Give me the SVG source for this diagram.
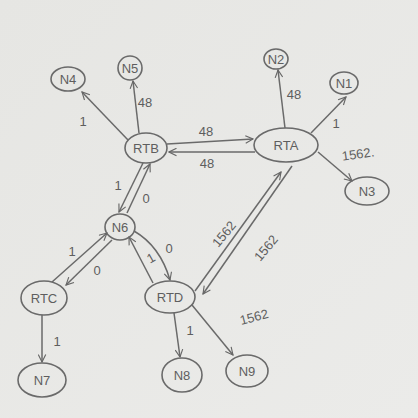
<svg xmlns="http://www.w3.org/2000/svg" width="418" height="418" viewBox="0 0 418 418">
<defs>
<marker id="ah" viewBox="0 0 12 12" refX="11" refY="6" markerWidth="9" markerHeight="9" orient="auto" markerUnits="userSpaceOnUse">
<path d="M1,1 L11,6 L1,11" fill="none" stroke="#666" stroke-width="1.5"/>
</marker>
<linearGradient id="bg" x1="0" y1="0" x2="1" y2="1">
<stop offset="0" stop-color="#e6e6e3"/>
<stop offset="1" stop-color="#ebebe9"/>
</linearGradient>
</defs>
<style>
.n ellipse{fill:none;stroke:#6a6a6a;stroke-width:1.6}
.n text{font-family:"Liberation Sans",sans-serif;font-size:13px;fill:#5e5e5e;text-anchor:middle;dominant-baseline:central}
.e path{fill:none;stroke:#6a6a6a;stroke-width:1.5;marker-end:url(#ah)}
.l{font-family:"Liberation Sans",sans-serif;font-size:13px;fill:#5e5e5e;text-anchor:middle;dominant-baseline:central}
</style>
<rect width="418" height="418" fill="url(#bg)"/>
<g class="e" id="connectors">
<path d="M128,140 L82,92"/>
<path d="M139,133 L133,81"/>
<path d="M167,144 L253,139"/>
<path d="M255,152 L169,152"/>
<path d="M285,128 L278,70"/>
<path d="M311,133 L346,97"/>
<path d="M318,152 L352,181"/>
<path d="M143,163 L119,212"/>
<path d="M127,213 L150,164"/>
<path d="M52,282 L107,233"/>
<path d="M112,240 L66,285"/>
<path d="M134,231 Q160,246 170,280"/>
<path d="M153,283 L129,237"/>
<path d="M195,291 L281,172"/>
<path d="M292,166 L203,294"/>
<path d="M42,315 L42,362"/>
<path d="M174,313 L180,357"/>
<path d="M192,305 L233,355"/>
</g>
<g id="labels">
<text class="l" x="83" y="121">1</text>
<text class="l" x="145" y="102">48</text>
<text class="l" x="206" y="131">48</text>
<text class="l" x="207" y="163">48</text>
<text class="l" x="294" y="94">48</text>
<text class="l" x="336" y="123">1</text>
<text class="l" x="358" y="154" transform="rotate(-8 358 154)">1562.</text>
<text class="l" x="118" y="185">1</text>
<text class="l" x="146" y="198">0</text>
<text class="l" x="72" y="251">1</text>
<text class="l" x="97" y="270">0</text>
<text class="l" x="151" y="258" transform="rotate(-30 151 258)">1</text>
<text class="l" x="169" y="248">0</text>
<text class="l" x="224" y="234" transform="rotate(-50 224 234)">1562</text>
<text class="l" x="266" y="248" transform="rotate(-50 266 248)">1562</text>
<text class="l" x="57" y="341">1</text>
<text class="l" x="190" y="330">1</text>
<text class="l" x="254" y="317" transform="rotate(-15 254 317)">1562</text>
</g>
<g class="n" id="N4"><ellipse cx="68" cy="79" rx="17" ry="12"/><text x="68" y="79">N4</text></g>
<g class="n" id="N5"><ellipse cx="130" cy="68" rx="12" ry="12"/><text x="130" y="68">N5</text></g>
<g class="n" id="RTB"><ellipse cx="146" cy="148" rx="21" ry="15"/><text x="146" y="148">RTB</text></g>
<g class="n" id="RTA"><ellipse cx="286" cy="145" rx="32" ry="17"/><text x="286" y="145">RTA</text></g>
<g class="n" id="N2"><ellipse cx="276" cy="59" rx="12" ry="10"/><text x="276" y="59">N2</text></g>
<g class="n" id="N1"><ellipse cx="344" cy="83" rx="14" ry="11"/><text x="344" y="83">N1</text></g>
<g class="n" id="N3"><ellipse cx="367" cy="191" rx="22" ry="14"/><text x="367" y="191">N3</text></g>
<g class="n" id="N6"><ellipse cx="120" cy="227" rx="15" ry="13"/><text x="120" y="227">N6</text></g>
<g class="n" id="RTC"><ellipse cx="44" cy="298" rx="23" ry="17"/><text x="44" y="298">RTC</text></g>
<g class="n" id="RTD"><ellipse cx="170" cy="297" rx="25" ry="16"/><text x="170" y="297">RTD</text></g>
<g class="n" id="N7"><ellipse cx="42" cy="380" rx="24" ry="17"/><text x="42" y="380">N7</text></g>
<g class="n" id="N8"><ellipse cx="182" cy="375" rx="20" ry="17"/><text x="182" y="375">N8</text></g>
<g class="n" id="N9"><ellipse cx="247" cy="371" rx="21" ry="16"/><text x="247" y="371">N9</text></g>
</svg>
